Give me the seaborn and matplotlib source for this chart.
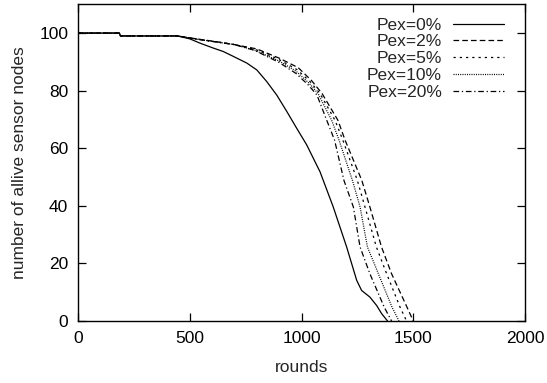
import numpy as np
import pandas as pd
import matplotlib
matplotlib.use("Agg")
import matplotlib.pyplot as plt
import seaborn as sns

# ---- data ----
labels = ["Pex=0%", "Pex=2%", "Pex=5%", "Pex=10%", "Pex=20%"]

r_0 = [0, 185, 190, 445, 500, 546, 605, 650, 695, 755, 800, 844, 889, 934,
       978, 1023, 1053, 1083, 1142, 1202, 1247, 1269, 1306, 1336, 1359, 1385]
v_0 = [100, 100, 99, 99, 98, 96.5, 94.8, 93.6, 91.9, 89.6, 87.2, 83.2, 78.5,
       72.8, 67, 61.2, 56.5, 51.8, 39.6, 25.7, 14.1, 10.6, 8.3, 5.4, 2.5, 0]

r_2 = [0, 185, 190, 445, 530, 620, 700, 800, 900, 985, 1045, 1092, 1163,
       1195, 1270, 1306, 1358, 1403, 1472, 1500]
v_2 = [100, 100, 99, 99, 98, 97, 96, 94.5, 91.3, 88, 83.5, 79, 69.7,
       62.8, 48.8, 39.6, 25.7, 16.4, 4.8, 0]

r_5 = [0, 185, 190, 445, 525, 615, 700, 795, 900, 980, 1040, 1083, 1150,
       1185, 1250, 1284, 1335, 1381, 1441, 1470]
v_5 = [100, 100, 99, 99, 98, 97, 96, 94.3, 90.8, 87.3, 83, 79, 69.7,
       62.8, 48.8, 39.6, 25.7, 16.4, 4.8, 0]

r_10 = [0, 185, 190, 445, 522, 612, 700, 792, 900, 975, 1035, 1074, 1135,
        1168, 1228, 1262, 1295, 1344, 1405, 1436]
v_10 = [100, 100, 99, 99, 98, 97, 96, 94, 90.3, 86.8, 82.5, 79, 69.7,
        62.8, 48.8, 39.6, 25.7, 16.4, 4.8, 0]

r_20 = [0, 185, 190, 445, 520, 610, 700, 790, 900, 975, 1030, 1069, 1113,
        1148, 1190, 1232, 1262, 1306, 1370, 1403]
v_20 = [100, 100, 99, 99, 98, 97, 96, 94, 89.8, 86, 82, 78.5, 69.7,
        62.8, 48.8, 39.6, 25.7, 16.4, 4.8, 0]

rounds = [r_0, r_2, r_5, r_10, r_20]
values = [v_0, v_2, v_5, v_10, v_20]

x_ticks = [0, 500, 1000, 1500, 2000]
y_ticks = [0, 20, 40, 60, 80, 100]

# ---- style ----
sns.set_style("ticks")
plt.rcParams["font.family"] = ["Liberation Sans", "DejaVu Sans"]
FS = 12.5
plt.rcParams["font.size"] = FS

line_styles = ["-", (0, (4.5, 2.5)), (0, (1.8, 3.2)), (0, (0.8, 1.0)),
               (0, (4.5, 2.2, 1.0, 2.2))]

fig = plt.figure(figsize=(5.47, 3.83), dpi=100)
ax = fig.add_axes([0.1426, 0.1619, 0.8172, 0.8269])

for lab, r, v, ls in zip(labels, rounds, values, line_styles):
    df = pd.DataFrame({"rounds": r, "nodes": v})
    sns.lineplot(data=df, x="rounds", y="nodes", ax=ax, color="black",
                 linewidth=0.9, linestyle=ls, label=lab, estimator=None,
                 sort=False)

ax.set_xlim(0, 2000)
ax.set_ylim(0, 110)
ax.set_xticks(x_ticks)
ax.set_yticks(y_ticks)
ax.set_xlabel("rounds", fontsize=FS, labelpad=10)
ax.set_ylabel("number of allive sensor nodes", fontsize=FS, labelpad=9)

ax.tick_params(direction="in", length=6, width=0.9, top=True, right=True,
               labelsize=FS, colors="black")
ax.tick_params(axis="y", pad=7)
ax.tick_params(axis="x", pad=7)
for s in ax.spines.values():
    s.set_visible(True)
    s.set_linewidth(1.0)
    s.set_color("black")

leg = ax.legend(loc="upper right", frameon=False, markerfirst=False,
                handlelength=2.95, labelspacing=0.09, fontsize=FS,
                borderaxespad=0.0, borderpad=0.0, handletextpad=0.62,
                bbox_to_anchor=(0.953, 0.958))
leg._legend_box.align = "right"

fig.savefig("out.png", dpi=100)
